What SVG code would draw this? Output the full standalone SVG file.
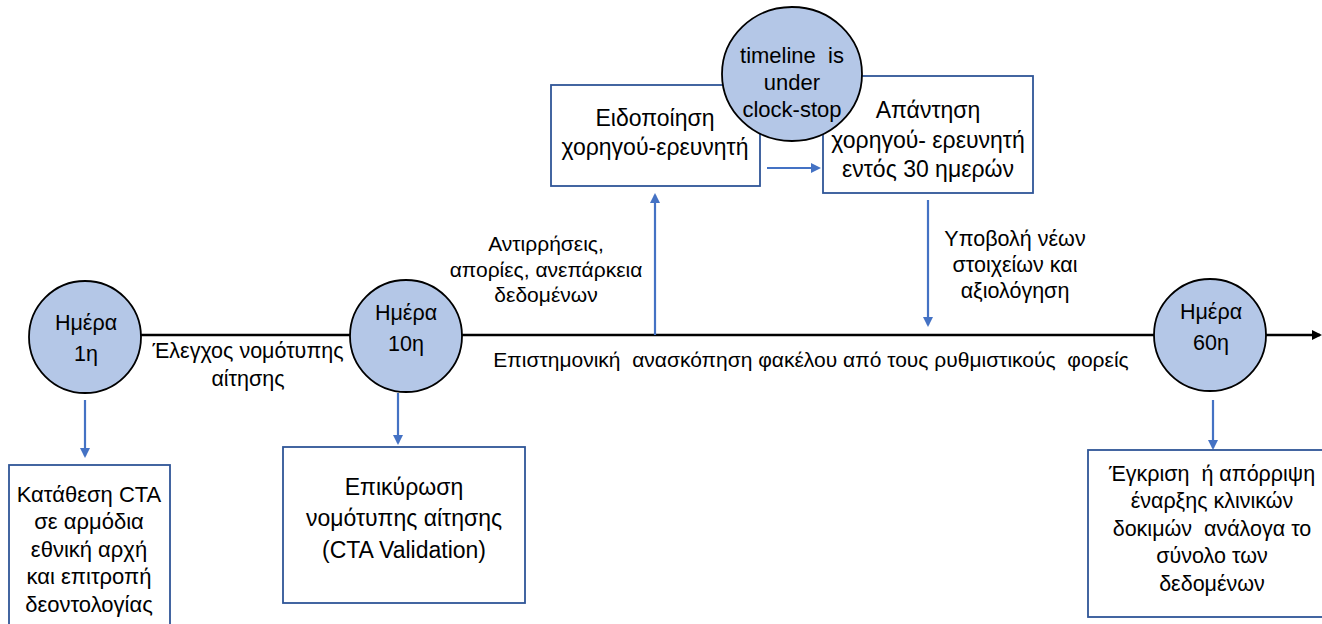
<svg xmlns="http://www.w3.org/2000/svg" width="1322" height="624" viewBox="0 0 1322 624">
<style>
text{font-family:"Liberation Sans",Arial,sans-serif;font-size:21.5px;fill:#000;text-anchor:middle;white-space:pre}
.l{font-size:23px}
.m{font-size:22px}
.s{font-size:21px}
.c{fill:#B4C7E7;stroke:#000;stroke-width:1.8}
.b{fill:#fff;stroke:#2F5597;stroke-width:1.8}
.a{stroke:#4472C4;stroke-width:2.2;fill:none;marker-end:url(#ba)}
.t{stroke:#000;stroke-width:2.4;fill:none}
</style>
<defs>
<marker id="ba" markerWidth="10" markerHeight="10" refX="8" refY="5" orient="auto" markerUnits="userSpaceOnUse"><path d="M0,0 L10,5 L0,10 z" fill="#4472C4"/></marker>
<marker id="ka" markerWidth="10" markerHeight="10" refX="8" refY="5" orient="auto" markerUnits="userSpaceOnUse"><path d="M0,0 L10,5 L0,10 z" fill="#000"/></marker>
</defs>
<g id="connectors">
<line class="t" x1="141" y1="335" x2="351" y2="335"/>
<line class="t" x1="461" y1="335" x2="1154" y2="335"/>
<line class="t" x1="1266" y1="335" x2="1320" y2="335" marker-end="url(#ka)"/>
<line class="a" x1="85" y1="400" x2="85" y2="456"/>
<line class="a" x1="398" y1="393" x2="398" y2="443"/>
<line class="a" x1="1213" y1="400" x2="1213" y2="448"/>
<line class="a" x1="655" y1="335" x2="655" y2="195"/>
<line class="a" x1="928" y1="200" x2="928" y2="325"/>
<line class="a" x1="767" y1="168" x2="819" y2="168"/>
</g>
<g id="label-review"><text class="s" x="811" y="367">Επιστημονική  ανασκόπηση φακέλου από τους ρυθμιστικούς  φορείς</text></g>
<g id="label-check"><text x="248" y="358">Έλεγχος νομότυπης</text><text x="248" y="386">αίτησης</text></g>
<g id="label-objections"><text class="s" x="546" y="251">Αντιρρήσεις,</text><text class="s" x="546" y="277">απορίες, ανεπάρκεια</text><text class="s" x="546" y="302">δεδομένων</text></g>
<g id="label-submit"><text x="1015" y="246">Υποβολή νέων</text><text x="1015" y="272">στοιχείων και</text><text x="1015" y="298">αξιολόγηση</text></g>
<g id="day1"><circle class="c" cx="85" cy="337" r="56"/><text x="86" y="330">Ημέρα</text><text x="86" y="361">1η</text></g>
<g id="day10"><circle class="c" cx="406" cy="336" r="56"/><text x="406" y="320">Ημέρα</text><text x="406" y="351">10η</text></g>
<g id="day60"><circle class="c" cx="1210" cy="335" r="56"/><text x="1211" y="319">Ημέρα</text><text x="1211" y="350">60η</text></g>
<g id="notify"><rect class="b" x="551" y="85" width="209" height="101"/><text class="l" x="655" y="126">Ειδοποίηση</text><text class="l" x="655" y="155">χορηγού-ερευνητή</text></g>
<g id="reply"><rect class="b" x="823" y="76" width="210" height="117"/><text class="l" x="928" y="118">Απάντηση</text><text class="l" x="928" y="148">χορηγού- ερευνητή</text><text class="l" x="928" y="177">εντός 30 ημερών</text></g>
<g id="clockstop"><ellipse class="c" cx="792" cy="74" rx="70" ry="67"/><text class="m" x="792" y="63">timeline  is</text><text class="m" x="792" y="90">under</text><text class="m" x="792" y="117">clock-stop</text></g>
<g id="submission"><rect class="b" x="9" y="465" width="161" height="170"/><text class="m" x="89" y="502">Κατάθεση CTA</text><text class="m" x="89" y="529">σε αρμόδια</text><text class="m" x="89" y="557">εθνική αρχή</text><text class="m" x="89" y="584">και επιτροπή</text><text class="m" x="89" y="612">δεοντολογίας</text></g>
<g id="validation"><rect class="b" x="283" y="447" width="242" height="156"/><text class="l" x="404" y="495">Επικύρωση</text><text class="l" x="404" y="526">νομότυπης αίτησης</text><text class="l" x="404" y="558">(CTA Validation)</text></g>
<g id="decision"><rect class="b" x="1088" y="450" width="240" height="167"/><text x="1212" y="481">Έγκριση  ή απόρριψη</text><text x="1212" y="508">έναρξης κλινικών</text><text x="1212" y="536">δοκιμών  ανάλογα το</text><text x="1212" y="563">σύνολο των</text><text x="1212" y="591">δεδομένων</text></g>
</svg>
